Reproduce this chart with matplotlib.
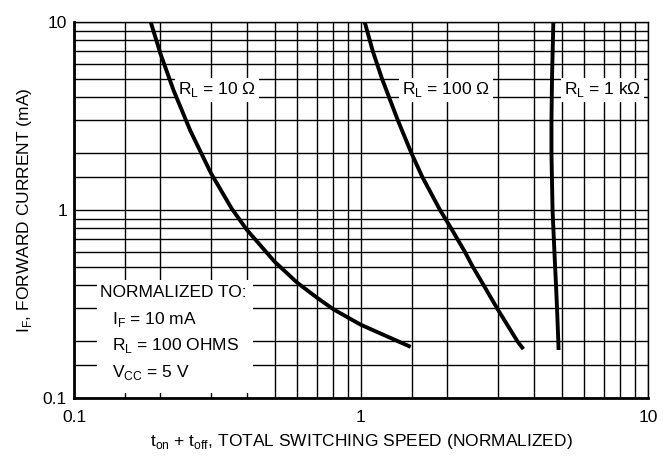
import matplotlib
matplotlib.use('Agg')
import matplotlib.pyplot as plt
from matplotlib.ticker import LogLocator, NullFormatter, FixedLocator, FixedFormatter

plt.rcParams['font.family'] = ['Liberation Sans', 'DejaVu Sans']
plt.rcParams['font.size'] = 12.5

# curve data (x = normalized switching speed, y = IF in mA)
rl10_x = [0.185, 0.2, 0.222, 0.254, 0.3, 0.354, 0.4, 0.5, 0.6, 0.7, 0.8, 0.9, 1.0, 1.49]
rl10_y = [10.0, 6.8, 4.35, 2.65, 1.57, 1.02, 0.785, 0.531, 0.41, 0.343, 0.297, 0.268, 0.245, 0.187]

rl100_x = [1.03, 1.099, 1.183, 1.344, 1.50, 1.635, 1.885, 2.06, 2.30, 2.45, 2.67, 2.98, 3.51, 3.68]
rl100_y = [10.0, 7.0, 5.0, 3.0, 2.0, 1.5, 1.0, 0.8, 0.6, 0.5, 0.4, 0.3, 0.2, 0.182]

rl1k_x = [4.68, 4.63, 4.61, 4.61, 4.65, 4.72, 4.78, 4.82, 4.87, 4.88]
rl1k_y = [10.0, 5.0, 3.0, 2.0, 1.0, 0.6, 0.4, 0.3, 0.2, 0.18]

curve_labels = ['R$_\\mathregular{L}$ = 10 Ω', 'R$_\\mathregular{L}$ = 100 Ω', 'R$_\\mathregular{L}$ = 1 kΩ']
label_x = [0.315, 1.98, 6.94]
label_y = [4.35, 4.35, 4.35]

note_lines = ['NORMALIZED TO:', 'I$_\\mathregular{F}$ = 10 mA',
              'R$_\\mathregular{L}$ = 100 OHMS', 'V$_\\mathregular{CC}$ = 5 V']

fig = plt.figure(figsize=(6.71, 4.59), dpi=100)
ax = fig.add_axes([0.1103, 0.1329, 0.8554, 0.8192])
ax.set_xscale('log')
ax.set_yscale('log')
ax.set_xlim(0.1, 10)
ax.set_ylim(0.1, 10)

# grid at 1.5, 2, 3 ... 9 in every decade
subs = [1.5, 2, 3, 4, 5, 6, 7, 8, 9]
for axis in (ax.xaxis, ax.yaxis):
    axis.set_major_locator(FixedLocator([0.1, 1, 10]))
    axis.set_major_formatter(FixedFormatter(['0.1', '1', '10']))
    axis.set_minor_locator(LogLocator(base=10, subs=subs))
    axis.set_minor_formatter(NullFormatter())
ax.grid(True, which='both', color='black', linewidth=1.0)
ax.tick_params(which='both', length=0)
ax.tick_params(axis='x', pad=9)
ax.tick_params(axis='y', pad=5)
for side in ['top', 'right']:
    ax.spines[side].set_linewidth(1.0)
for side in ['bottom', 'left']:
    ax.spines[side].set_linewidth(2.0)
ax.set_axisbelow(True)

for xs, ys in [(rl10_x, rl10_y), (rl100_x, rl100_y), (rl1k_x, rl1k_y)]:
    ax.plot(xs, ys, color='black', linewidth=2.8, zorder=4,
            solid_capstyle='butt', solid_joinstyle='round')

for txt, lx, ly in zip(curve_labels, label_x, label_y):
    ax.text(lx, ly, txt, ha='center', va='center', zorder=3,
            bbox=dict(facecolor='white', edgecolor='none', pad=2))

# white box behind the normalization note
ax.add_patch(plt.Rectangle((0.040, 0.013), 0.272, 0.301, transform=ax.transAxes,
                           facecolor='white', edgecolor='none', zorder=2))
note_x = [0.123, 0.1356, 0.1356, 0.1356]
note_y = [0.362, 0.26, 0.191, 0.137]
for txt, nx, ny in zip(note_lines, note_x, note_y):
    ax.text(nx, ny, txt, ha='left', va='center', zorder=3)

ax.set_xlabel('t$_\\mathregular{on}$ + t$_\\mathregular{off}$, TOTAL SWITCHING SPEED (NORMALIZED)', labelpad=5)
ax.set_ylabel('I$_\\mathregular{F}$, FORWARD CURRENT (mA)', labelpad=6)

fig.savefig('out.png', dpi=100)
